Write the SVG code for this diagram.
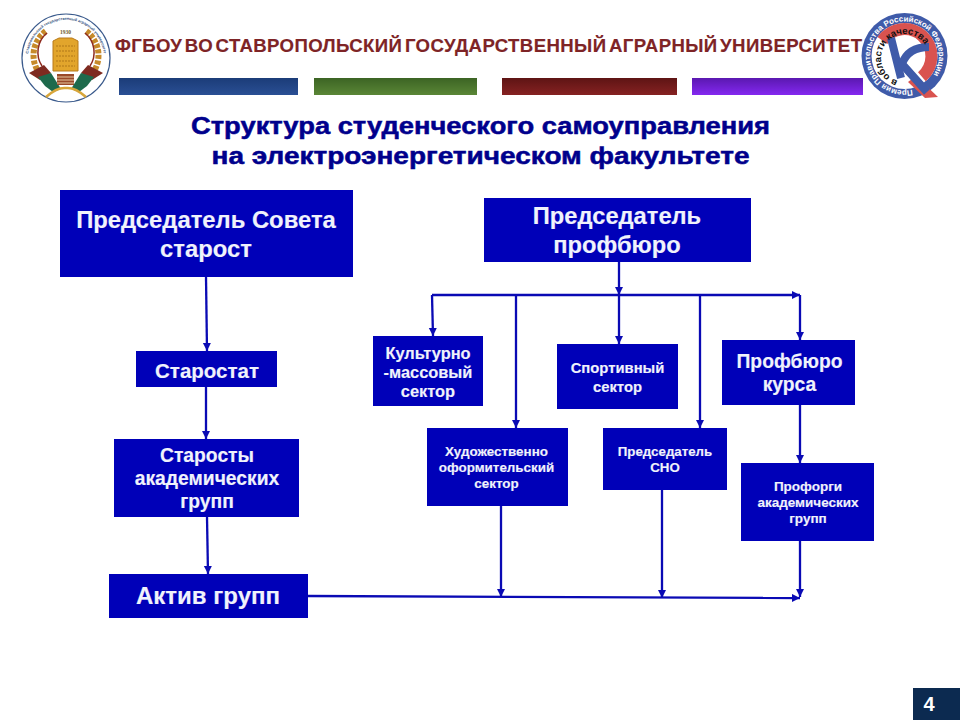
<svg xmlns="http://www.w3.org/2000/svg" width="960" height="720" viewBox="0 0 960 720">
<style>
text{font-family:"Liberation Sans",Arial,sans-serif;font-weight:bold;text-anchor:middle}
.n rect{fill:#0000B8}
.n text{fill:#F0F2FC;stroke:#F0F2FC;stroke-width:.15}
.c line{stroke:#0A0AB4;stroke-width:2.300;fill:none}
.head{fill:#0A0AB4}
</style>
<defs>
<marker id="a" markerUnits="userSpaceOnUse" markerWidth="10" markerHeight="9" refX="8" refY="4" orient="auto"><path class="head" d="M0 0L8 4L0 8Z"/></marker>
<linearGradient id="gb" x1="0" y1="0" x2="0" y2="1"><stop offset="0" stop-color="#1B3C78"/><stop offset="1" stop-color="#2A4F94"/></linearGradient>
<linearGradient id="gg" x1="0" y1="0" x2="0" y2="1"><stop offset="0" stop-color="#3C6424"/><stop offset="1" stop-color="#5A8636"/></linearGradient>
<linearGradient id="gr" x1="0" y1="0" x2="0" y2="1"><stop offset="0" stop-color="#5E1414"/><stop offset="1" stop-color="#862222"/></linearGradient>
<linearGradient id="gp" x1="0" y1="0" x2="0" y2="1"><stop offset="0" stop-color="#5A18B0"/><stop offset="1" stop-color="#8428F0"/></linearGradient>
<path id="ringL" d="M28.500 64A38 38 0 1 1 103.500 64"/>
<path id="ringR" d="M916.300 88.400A34.500 34.500 0 1 1 930.900 78.200"/>
<path id="ringI" d="M899.200 81.300A24 24 0 1 1 925.800 46"/>
</defs>

<g id="logo-left">
<circle cx="66" cy="58" r="44" fill="#fff" stroke="#3A5A8C" stroke-width="1.200"/>
<text font-size="3.800" fill="#34507E"><textPath href="#ringL" startOffset="50%">Ставропольский государственный аграрный университет</textPath></text>
<path d="M40 74A30 30 0 0 1 46 31" fill="none" stroke="#C68A2A" stroke-width="6" stroke-dasharray="4 1.500"/>
<path d="M92 74A30 30 0 0 0 86 31" fill="none" stroke="#C68A2A" stroke-width="6" stroke-dasharray="4 1.500"/>
<path d="M47 33A25 25 0 0 0 42 66" fill="none" stroke="#8E2A1E" stroke-width="1.500"/>
<path d="M85 33A25 25 0 0 1 90 66" fill="none" stroke="#8E2A1E" stroke-width="1.500"/>
<path d="M29 73L44 65L51 73L40 80Z" fill="#7E2A20"/>
<path d="M103 73L88 65L81 73L92 80Z" fill="#7E2A20"/>
<path d="M38 77L51 73L61 89L53 92L45 86Z" fill="#1E6A4C"/>
<path d="M94 77L81 73L71 89L79 92L87 86Z" fill="#1E6A4C"/>
<path d="M46 97Q57 87 66 88Q75 87 86 97" fill="none" stroke="#D8A63A" stroke-width="2.500"/>
<path d="M53 46L53 41L59 38L72 38L78 41L78 71L53 71Z" fill="#E2A52C" stroke="#B87A1A" stroke-width="1"/>
<path d="M56 46H75M56 51H75M56 56H75M56 61H75M56 66H75" stroke="#B07818" stroke-width="1.200" stroke-dasharray="2 1"/>
<path d="M57 74H74V85H57Z" fill="#9A4A2A"/>
<path d="M57 77H74M57 80H74M57 83H74" stroke="#E6C8A0" stroke-width="1"/>
<text x="65.500" y="34" font-size="5.500" fill="#6A5A2A" style="font-family:'Liberation Serif',serif">1930</text>
</g>

<text x="488.500" y="52" font-size="18.600" fill="#7E2426" stroke="#7E2426" stroke-width=".15" textLength="747" lengthAdjust="spacing" style="word-spacing:-3px">ФГБОУ ВО СТАВРОПОЛЬСКИЙ ГОСУДАРСТВЕННЫЙ АГРАРНЫЙ УНИВЕРСИТЕТ</text>

<g id="logo-right">
<circle cx="904.500" cy="56" r="43" fill="#3F5BA9"/>
<circle cx="904.500" cy="56" r="33" fill="#fff"/>
<path d="M882.400 40.500A27 27 0 1 1 921.900 76.700" fill="none" stroke="#D9534F" stroke-width="12"/>
<path d="M916 76L938 97L925 98L908 82Z" fill="#D9534F"/>
<path d="M891 38L901 78" stroke="#3F5BA9" stroke-width="8" fill="none"/>
<path d="M929 47Q908 47 902 64L927 92" stroke="#3F5BA9" stroke-width="8" fill="none"/>
<text font-size="8" fill="#fff"><textPath href="#ringR" startOffset="50%">Премия Правительства Российской Федерации</textPath></text>
<text font-size="9.500" fill="#111"><textPath href="#ringI" startOffset="50%">в области качества</textPath></text>
</g>

<g id="bars">
<rect x="119" y="78" width="179" height="17" fill="url(#gb)"/>
<rect x="314" y="78" width="163" height="17" fill="url(#gg)"/>
<rect x="502" y="78" width="175" height="17" fill="url(#gr)"/>
<rect x="692" y="78" width="171" height="17" fill="url(#gp)"/>
</g>

<g id="title" font-size="24">
<text x="480.500" y="134" textLength="579" lengthAdjust="spacingAndGlyphs" fill="#00008C" stroke="#00008C" stroke-width=".5">Структура студенческого самоуправления</text>
<text x="480.500" y="164" textLength="538" lengthAdjust="spacingAndGlyphs" fill="#00008C" stroke="#00008C" stroke-width=".5">на электроэнергетическом факультете</text>
</g>

<g id="connectors" class="c">
<line x1="206" y1="277" x2="207" y2="351" marker-end="url(#a)"/>
<line x1="206" y1="387" x2="206" y2="439" marker-end="url(#a)"/>
<line x1="207" y1="517" x2="208" y2="574" marker-end="url(#a)"/>
<line x1="619" y1="262" x2="619" y2="295" marker-end="url(#a)"/>
<line x1="432" y1="295" x2="800" y2="295" marker-end="url(#a)"/>
<line x1="432" y1="295" x2="433" y2="336" marker-end="url(#a)"/>
<line x1="516" y1="295" x2="516" y2="428" marker-end="url(#a)"/>
<line x1="619" y1="295" x2="619" y2="344" marker-end="url(#a)"/>
<line x1="700" y1="295" x2="700" y2="428" marker-end="url(#a)"/>
<line x1="800" y1="295" x2="800" y2="340" marker-end="url(#a)"/>
<line x1="800" y1="405" x2="800" y2="463" marker-end="url(#a)"/>
<line x1="501" y1="506" x2="501" y2="597" marker-end="url(#a)"/>
<line x1="662" y1="490" x2="662" y2="598" marker-end="url(#a)"/>
<line x1="800" y1="541" x2="800" y2="597" marker-end="url(#a)"/>
<line x1="308" y1="596" x2="800" y2="598" marker-end="url(#a)"/>
</g>

<g id="n1" class="n"><rect x="60" y="190" width="293" height="87"/><text x="206" y="228" font-size="23.800">Председатель Совета</text><text x="206" y="257" font-size="23.800">старост</text></g>
<g id="n2" class="n"><rect x="484" y="198" width="267" height="64"/><text x="617" y="224" font-size="23.700">Председатель</text><text x="617" y="253" font-size="23.700">профбюро</text></g>
<g id="n3" class="n"><rect x="136" y="351" width="141" height="36"/><text x="207" y="378" font-size="20.500">Старостат</text></g>
<g id="n4" class="n"><rect x="114" y="439" width="185" height="78"/><text x="207" y="462" font-size="19.300">Старосты</text><text x="207" y="485" font-size="19.300">академических</text><text x="207" y="508" font-size="19.300">групп</text></g>
<g id="n5" class="n"><rect x="109" y="574" width="199" height="44"/><text x="208" y="604" font-size="24">Актив групп</text></g>
<g id="n6" class="n"><rect x="373" y="336" width="110" height="70"/><text x="428" y="359" font-size="16.400">Культурно</text><text x="428" y="378" font-size="16.400">-массовый</text><text x="428" y="397" font-size="16.400">сектор</text></g>
<g id="n7" class="n"><rect x="557" y="344" width="121" height="65"/><text x="617.500" y="373" font-size="14.800">Спортивный</text><text x="617.500" y="392" font-size="14.800">сектор</text></g>
<g id="n8" class="n"><rect x="722" y="340" width="133" height="65"/><text x="789.500" y="368" font-size="19.300">Профбюро</text><text x="789.500" y="391" font-size="19.300">курса</text></g>
<g id="n9" class="n"><rect x="427" y="428" width="141" height="78"/><text x="496.500" y="456" font-size="13.400">Художественно</text><text x="496.500" y="472" font-size="13.400">оформительский</text><text x="496.500" y="488" font-size="13.400">сектор</text></g>
<g id="n10" class="n"><rect x="603" y="428" width="124" height="62"/><text x="665" y="456" font-size="13.300">Председатель</text><text x="665" y="472" font-size="13.300">СНО</text></g>
<g id="n11" class="n"><rect x="741" y="463" width="133" height="78"/><text x="808" y="491" font-size="13.500">Профорги</text><text x="808" y="507" font-size="13.500">академических</text><text x="808" y="523" font-size="13.500">групп</text></g>

<g id="page"><rect x="913" y="688" width="47" height="32" fill="#0C2A50"/><text x="929" y="711" font-size="20" fill="#fff">4</text></g>
</svg>
